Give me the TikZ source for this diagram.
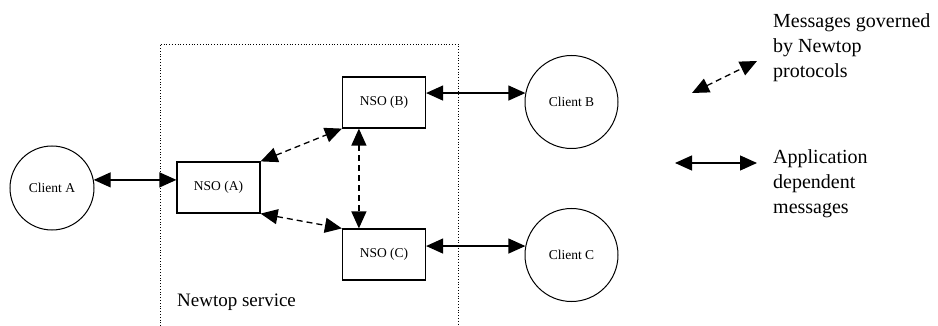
\documentclass[tikz,border=0pt]{standalone}
\usepackage{fontspec}
\setmainfont{Liberation Serif}
\usetikzlibrary{arrows.meta,positioning,calc}

\tikzset{
  nso/.style={draw, line width=1.2pt, minimum width=83pt, minimum height=51pt, inner sep=0pt, font=\fontsize{13.5}{16}\selectfont},
  client/.style={draw, circle, line width=1pt, inner sep=0pt, font=\fontsize{13.5}{16}\selectfont},
  app/.style={line width=1.3pt, {Triangle[length=17pt,width=15pt]}-{Triangle[length=17pt,width=15pt]}},
  proto/.style={app, dash pattern=on 6pt off 4pt},
  legend/.style={align=left, anchor=base west, inner sep=0pt, font=\fontsize{20}{25}\selectfont}
}

\begin{document}
\begin{tikzpicture}[x=1pt, y=-1pt]
  \useasboundingbox (0,0) rectangle (938,326);

  % Newtop service boundary (open at the bottom)
  \draw[dotted, line width=0.8pt] (160,326) |- (458,44) -- (458,326);
  \node[anchor=base west, inner sep=0pt, font=\fontsize{19}{24}\selectfont] (service) at (177,306) {Newtop service};

  \node[nso] (nsoA) at (218.5,187.5) {NSO (A)}; %
  \node[nso] (nsoB) at (384,102.5) {NSO (B)}; %
  \node[nso] (nsoC) at (384,254.5) {NSO (C)}; %

  \node[client, minimum size=84pt] (clientA) at (52,188) {Client A}; %
  \node[client, minimum size=93pt] (clientB) at (571.5,102) {Client B}; %
  \node[client, minimum size=93pt] (clientC) at (571.5,255) {Client C}; %

  % protocol messages
  \draw[proto] (nsoA.north east) -- (nsoB.south west);
  \draw[proto] (nsoA.south east) -- (nsoC.north west);
  \draw[proto] ([xshift=17pt]nsoB.south west) -- ([xshift=17pt]nsoC.north west);

  % application messages
  \draw[app] (clientA.11) -- (clientA.11 -| nsoA.west);
  \draw[app] (nsoB.east |- clientB.169) -- (clientB.169);
  \draw[app] (nsoC.east |- clientC.169) -- (clientC.169);

  % legend (base = last line)
  \coordinate (protoS) at (692,93);
  \coordinate (protoE) at (757,61);
  \draw[proto] (protoS) -- (protoE);
  \node[legend] (protoText) at (773,78) {Messages governed\\by Newtop\\protocols};

  \coordinate (appS) at (675,163);
  \coordinate (appE) at (757,163);
  \draw[app] (appS) -- (appE);
  \node[legend] (appText) at (773,214) {Application\\dependent\\messages};
\end{tikzpicture}
\end{document}
